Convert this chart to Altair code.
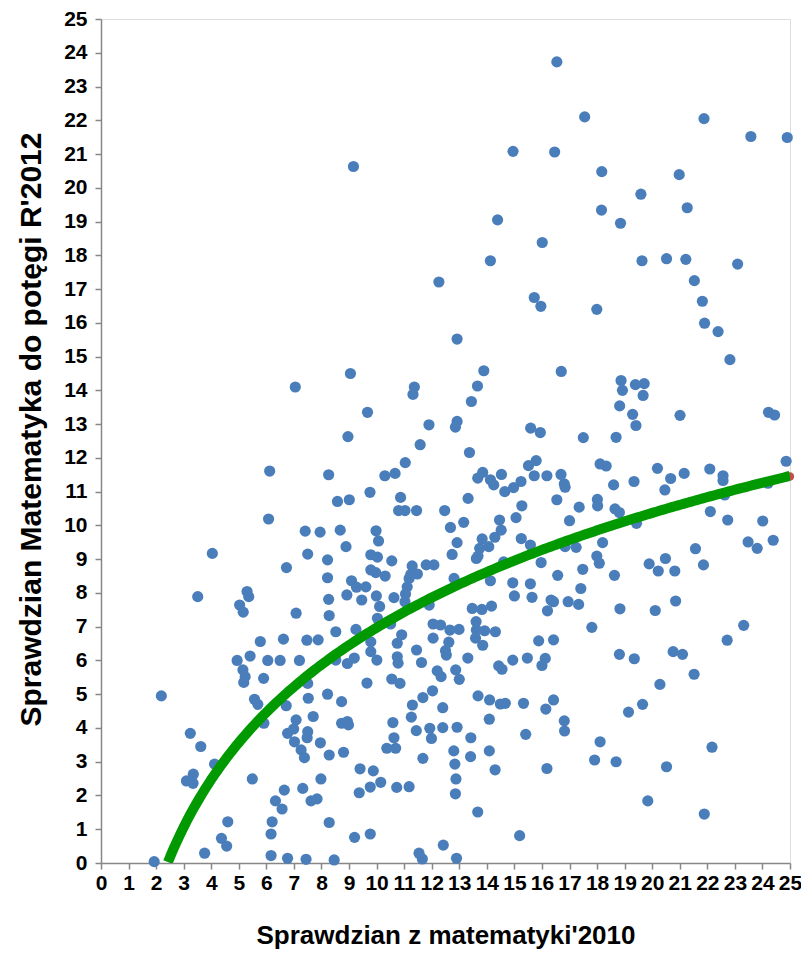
import altair as alt
import pandas as pd

# Scatter points (x = Sprawdzian z matematyki'2010, y = Sprawdzian Matematyka do potęgi R'2012)
xs = [
    16.54, 14.95, 16.46, 9.16, 14.39, 17.55, 21.88, 23.58, 24.9, 18.17, 20.98, 19.59, 18.16, 21.27, 18.85,
    7.05,
    16.01, 14.13, 12.26, 15.72, 15.96, 12.92, 9.05, 13.89, 16.7, 11.37, 11.32, 13.66, 13.44, 9.67, 11.9,
    12.92, 12.86, 15.59, 15.94, 8.96, 11.58,
    19.63, 20.52, 21.22, 23.1, 21.53, 17.99, 21.82, 21.9, 22.39, 22.82, 18.87, 18.92, 19.39, 19.71, 19.67,
    18.82, 19.29, 19.41, 21.01, 24.22, 24.44, 17.5, 18.69,
    6.12, 8.26, 6.08, 7.41, 7.95, 4.04, 7.5, 8.22, 6.73, 8.22, 3.51, 5.3, 5.36, 5.03, 5.16, 7.08, 8.26, 8.28,
    5.78, 6.62, 7.47, 7.88, 4.94, 5.41, 6.05, 6.5, 7.2,
    5.15, 5.23, 5.18, 5.9, 2.19, 5.57, 5.69, 6.72, 7.5, 7.52, 8.22, 7.08, 7.7, 5.91, 6.77, 6.99, 7.5, 7.48,
    7.02, 7.96, 7.26, 7.38, 8.28, 3.24, 3.62, 4.12, 3.35, 3.1, 3.34, 5.49, 7.98, 6.65, 7.32, 6.33, 6.57,
    7.62, 7.84, 4.6, 6.21, 8.28, 6.17, 4.37, 4.56, 3.76, 1.93, 6.17, 6.77, 7.44,
    8.52, 8.94, 9.19, 10.01, 10.75, 10.78, 11.63, 12.53, 13.31, 14.43, 14.55, 14.94, 15.47, 16.0, 12.2,
    12.34, 12.87, 13.0, 10.55, 10.85, 9.65, 8.73, 12.03, 11.68, 11.3, 12.4, 13.68, 14.1, 14.49, 14.67,
    15.33, 16.14, 16.42, 11.26, 10.59, 11.44, 11.93, 11.99, 12.4, 12.92, 13.42, 14.09, 15.41, 8.73, 8.94,
    8.98, 10.63, 10.37, 10.69, 8.8, 11.68, 12.8, 12.84, 13.41, 14.09, 14.3, 9.4, 9.88, 10.15, 9.77, 10.73,
    11.18, 9.37, 12.88, 12.86, 16.18, 13.67, 9.2, 9.77, 15.19, 12.42, 11.54, 11.66, 12.9, 8.46,
    21.52, 20.28, 16.81, 16.82, 19.65, 19.14, 18.11, 17.91, 18.69, 22.17, 20.52, 19.84, 21.89,
    24.86, 18.11, 18.33, 20.19, 22.09, 16.69, 21.16, 20.67, 22.57, 22.57, 16.81, 16.84, 19.34, 18.6, 20.46,
    24.2, 16.54, 18.01, 18.02, 17.35, 18.65, 18.81, 22.63, 22.11, 22.74, 24.01, 17.0, 19.43, 16.84, 17.24,
    18.2, 23.48, 23.81, 24.39, 17.99, 18.08, 21.57, 19.89, 20.48, 20.22, 20.82, 21.86, 16.57, 17.48, 18.63,
    17.41, 16.42, 16.95, 17.33, 20.85, 18.83, 20.11, 17.81, 23.32, 16.42, 22.72, 18.81, 19.35, 20.76, 21.1,
    13.37, 11.04, 15.51, 15.79, 10.3, 10.67, 13.67, 13.85, 14.13, 14.25, 14.53, 15.72, 16.18, 15.24, 14.97,
    14.65, 9.76, 8.58, 9.01, 10.87, 10.8, 11.03, 11.45, 13.32, 12.47, 15.27, 15.06, 14.46, 13.16, 12.68,
    14.52, 14.29, 13.83, 15.25, 8.68, 9.98, 10.07, 8.89, 12.92, 14.07, 13.74, 15.58, 13.68, 12.74, 13.62,
    9.79, 10.03, 10.55, 14.61, 15.97, 11.29, 11.8, 12.08, 9.79, 9.97, 11.24, 11.48, 10.31, 12.81, 14.13,
    11.18, 9.09, 9.27, 9.61, 11.11, 14.94, 15.58, 8.92, 9.99, 11.05, 15.0, 15.64, 9.46, 10.63, 11.03, 16.33,
    10.11, 11.91, 13.47, 13.82, 14.17, 16.2, 10.03, 10.51, 12.05, 12.32, 12.66, 12.99, 13.61, 13.62, 13.92,
    14.31, 9.25, 8.52, 9.79, 10.91, 10.75, 12.05, 12.62, 13.59, 13.85, 15.88, 11.45, 12.5, 9.79, 16.12,
]
ys = [
    23.73, 21.08, 21.06, 20.63, 19.05, 22.1, 22.05, 21.52, 21.49, 20.48, 20.39, 19.81, 19.34, 19.41, 18.95,
    14.1,
    18.38, 17.84, 17.21, 16.75, 16.49, 15.52, 14.5, 14.58, 14.56, 14.1, 13.88, 14.13, 13.67, 13.35, 12.98,
    13.08, 12.91, 12.88, 12.75, 12.63, 12.39,
    17.84, 17.9, 17.88, 17.74, 17.25, 16.4, 16.64, 15.99, 15.74, 14.91, 14.29, 14.0, 14.17, 14.2, 13.85,
    13.54, 13.29, 12.96, 13.26, 13.35, 13.27, 12.6, 12.61,
    11.61, 11.5, 10.19, 9.83, 9.8, 9.17, 9.15, 8.98, 8.75, 8.45, 7.89, 8.04, 7.89, 7.64, 7.43, 7.4, 7.81, 7.33,
    6.56, 6.63, 6.6, 6.61, 6.0, 6.13, 6.0, 6.0, 6.0,
    5.72, 5.52, 5.35, 5.47, 4.95, 4.85, 4.7, 4.66, 5.32, 4.88, 5.0, 4.24, 4.34, 4.14, 3.84, 3.97, 3.89, 3.71,
    3.59, 3.56, 3.35, 3.12, 3.2, 3.84, 3.45, 2.93, 2.63, 2.43, 2.36, 2.49, 2.49, 2.16, 2.21, 1.84, 1.6,
    1.84, 1.9, 1.22, 1.22, 1.2, 0.86, 0.73, 0.5, 0.29, 0.04, 0.22, 0.14, 0.11,
    6.01, 5.91, 6.07, 6.01, 6.11, 5.92, 5.94, 6.16, 6.07, 5.84, 5.74, 6.01, 6.07, 5.85, 5.69,
    5.52, 5.72, 5.44, 5.45, 5.32, 5.33, 4.78, 5.1, 4.9, 4.68, 4.6, 4.95, 4.83, 4.71, 4.73,
    4.73, 4.56, 4.83, 4.32, 4.16, 3.92, 3.99, 3.69, 4.01, 4.02, 3.71, 4.26, 3.81, 4.14, 4.19,
    4.09, 3.71, 3.4, 3.4, 3.28, 3.1, 3.32, 2.93, 3.15, 3.32, 2.76, 2.79, 2.73, 2.39, 2.25, 2.24,
    2.26, 2.08, 2.49, 2.05, 2.8, 1.51, 0.76, 0.86, 0.81, 0.53, 0.29, 0.12, 0.14, 0.09,
    5.59, 5.29, 4.21, 3.91, 4.7, 4.47, 3.59, 3.05, 3.0, 3.43, 2.85, 1.84, 1.45,
    11.9, 11.82, 11.76, 11.69, 11.67, 11.51, 11.54, 11.39, 11.47, 11.33, 11.23, 11.13, 11.3, 11.2, 11.05,
    11.25, 10.76, 10.77, 10.58, 10.54, 10.49, 10.38, 10.9, 10.41, 10.16, 10.13, 10.14, 10.06, 9.37, 9.35,
    9.49, 9.51, 9.32, 9.56, 9.09, 8.88, 9.31, 8.86, 9.02, 8.65, 8.65, 8.83, 8.52, 8.7, 8.52,
    8.13, 7.74, 7.74, 7.66, 7.76, 7.53, 7.48, 6.98, 7.04, 6.61, 6.6, 6.18, 6.05, 6.26, 6.18,
    12.16, 11.86, 11.77, 11.92, 11.47, 11.54, 11.4, 11.57, 11.35, 11.2, 11.51, 11.47, 11.47, 11.3, 11.12,
    11.0, 10.98, 10.71, 10.76, 10.83, 10.44, 10.44, 10.44, 10.8, 10.44, 10.58, 10.23, 10.16, 10.09, 9.94,
    9.86, 9.65, 9.6, 9.61, 9.86, 9.84, 9.54, 9.37, 9.49, 9.37, 9.32, 9.42, 9.09, 9.14, 9.02,
    9.13, 9.06, 8.95, 8.92, 8.9, 8.8, 8.83, 8.83, 8.68, 8.6, 8.55, 8.56, 8.5, 8.43, 8.36,
    8.43, 8.36, 8.17, 8.18, 8.18, 8.3, 8.27, 7.94, 7.91, 7.97, 7.91, 7.87, 7.79, 7.86, 7.74, 7.79,
    7.6, 7.64, 7.54, 7.51, 7.61, 7.47, 7.25, 7.08, 7.08, 7.05, 6.9, 6.92, 7.15, 6.9, 6.88,
    6.85, 6.92, 6.85, 6.55, 6.76, 6.51, 6.66, 6.54, 6.66, 6.45, 6.58, 6.31, 6.29, 6.26, 6.06,
]

# Logarithmic trend line: y = a*ln(x) + b, drawn over this x range
trend_coef = [4.906, -4.328]
trend_x_range = [2.43, 25.0]

# small red marker peeking out at the right end of the trend line
red_x = [25.0]
red_y = [11.45]

x_ticks = list(range(0, 26))
y_ticks = list(range(0, 26))

x_title = "Sprawdzian z matematyki'2010"
y_title = "Sprawdzian Matematyka do potęgi R'2012"

df = pd.DataFrame({"x": xs, "y": ys})
red_df = pd.DataFrame({"x": red_x, "y": red_y})

FONT = "Liberation Sans"
AXIS_COLOR = "#878787"
W, H = 689, 844

x_enc = alt.X(
    "x:Q",
    scale=alt.Scale(domain=[0, 25], nice=False, zero=False),
    axis=alt.Axis(
        title=x_title, values=x_ticks, format="d", grid=False,
        labelOverlap=False, labelFlush=False, labelBound=False,
        domainColor=AXIS_COLOR, domainWidth=1.5, tickColor=AXIS_COLOR, tickWidth=1.5, tickSize=6,
        labelFont=FONT, labelFontSize=21, labelFontWeight="bold", labelColor="#000000", labelPadding=3,
        titleFont=FONT, titleFontSize=26, titleFontWeight="bold", titleColor="#000000",
        titleBaseline="alphabetic", titleY=80,
    ),
)
y_enc = alt.Y(
    "y:Q",
    scale=alt.Scale(domain=[0, 25], nice=False, zero=False),
    axis=alt.Axis(
        title=y_title, values=y_ticks, format="d", grid=False,
        labelOverlap=False, labelFlush=False, labelBound=False,
        domainColor=AXIS_COLOR, domainWidth=1.5, tickColor=AXIS_COLOR, tickWidth=1.5, tickSize=6,
        labelFont=FONT, labelFontSize=21, labelFontWeight="bold", labelColor="#000000", labelPadding=8,
        titleFont=FONT, titleFontSize=30, titleFontWeight="bold", titleColor="#000000", titlePadding=17,
        titleY=H / 2 - 12,
    ),
)

points = alt.Chart(df).mark_circle(size=125, color="#4A7EBB", opacity=1).encode(x=x_enc, y=y_enc)

red = alt.Chart(red_df).mark_circle(size=70, color="#C0504D", opacity=1).encode(x=x_enc, y=y_enc)

trend = (
    alt.Chart(df)
    .transform_aggregate(n="count()")
    .transform_calculate(x0=f"{trend_x_range[0]}", x1=f"{trend_x_range[1]}")
    .transform_calculate(steps="sequence(0, 201)")
    .transform_flatten(["steps"])
    .transform_calculate(x="datum.x0 + (datum.x1 - datum.x0) * datum.steps / 200")
    .transform_calculate(y=f"{trend_coef[0]} * log(datum.x) + ({trend_coef[1]})")
    .mark_line(color="#009900", strokeWidth=10, clip=True)
    .encode(x=x_enc, y=y_enc, order=alt.Order("steps:Q"))
)

chart = (
    alt.layer(points, red, trend)
    .properties(
        width=W, height=H,
        autosize=alt.AutoSizeParams(type="none"),
        padding={"left": 93, "top": 11, "right": 11, "bottom": 86},
    )
    .configure_view(stroke=None)
    .configure(background="#ffffff")
)

chart.save("out.html", embed_options={"renderer": "svg", "actions": False})
